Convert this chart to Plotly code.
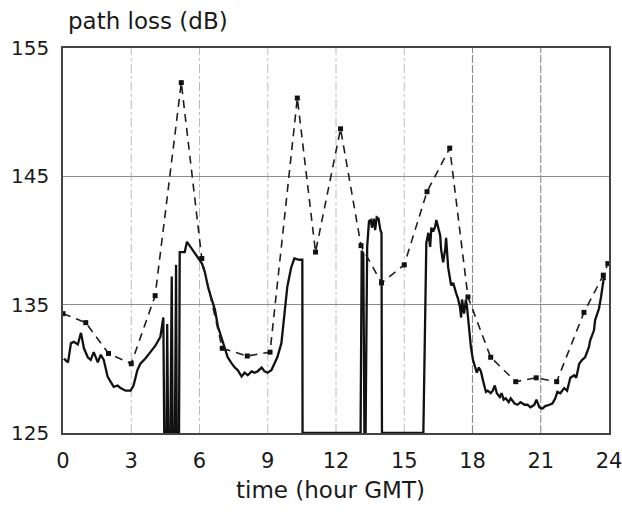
import plotly.graph_objects as go

# Hourly predicted path loss (dashed, with markers)
pred_hour = [0.0, 1.0, 2.0, 3.0, 4.05, 5.2, 6.1, 7.0, 8.1, 9.1, 10.3, 11.1, 12.2,
             13.1, 14.0, 15.0, 16.0, 17.0, 17.8, 18.8, 19.9, 20.8, 21.7, 22.9,
             23.75, 23.95]
pred_db = [134.3, 133.6, 131.2, 130.4, 135.7, 152.3, 138.6, 131.6, 131.0, 131.3,
           151.1, 139.1, 148.7, 139.6, 136.7, 138.1, 143.8, 147.2, 135.6, 130.9,
           129.0, 129.3, 129.0, 134.4, 137.3, 138.2]

# Measured path loss (solid); 125 dB marks signal dropouts
meas_hour = [0.04, 0.22, 0.35, 0.48, 0.65, 0.79, 0.92, 1.09, 1.22, 1.35, 1.53, 1.66,
             1.79, 1.96, 2.09, 2.23, 2.4, 2.53, 2.75, 2.97, 3.1, 3.27, 3.4, 3.62,
             3.84, 4.06, 4.28, 4.41, 4.45, 4.55, 4.58, 4.62, 4.72, 4.78, 4.82, 4.92,
             4.97, 5.0, 5.1, 5.13, 5.35, 5.45, 5.8, 6.11, 6.24, 6.37, 6.54, 6.68,
             6.81, 6.98, 7.11, 7.24, 7.42, 7.55, 7.68, 7.85, 7.98, 8.12, 8.29, 8.42,
             8.55, 8.73, 8.86, 8.99, 9.16, 9.29, 9.42, 9.6, 9.73, 9.86, 10.03, 10.17,
             10.38, 10.52, 10.53, 13.08, 13.13, 13.2, 13.25, 13.3, 13.37, 13.45,
             13.53, 13.58, 13.66, 13.72, 13.79, 13.87, 13.95, 14.0, 14.02, 15.84,
             15.97, 16.06, 16.14, 16.19, 16.27, 16.36, 16.41, 16.49, 16.58, 16.62,
             16.71, 16.8, 16.84, 16.93, 17.02, 17.06, 17.15, 17.23, 17.28, 17.36,
             17.45, 17.5, 17.54, 17.63, 17.71, 17.76, 17.84, 17.93, 18.02, 18.11,
             18.19, 18.28, 18.37, 18.46, 18.59, 18.67, 18.8, 18.89, 18.98, 19.07,
             19.2, 19.28, 19.37, 19.46, 19.59, 19.68, 19.85, 19.98, 20.11, 20.29,
             20.42, 20.55, 20.72, 20.81, 20.94, 21.07, 21.2, 21.38, 21.51, 21.64,
             21.73, 21.86, 22.03, 22.16, 22.3, 22.47, 22.56, 22.69, 22.82, 22.95,
             23.12, 23.17, 23.34, 23.39, 23.56, 23.65, 23.73, 23.78, 23.82]
meas_db = [130.8, 130.5, 132.0, 132.1, 131.9, 132.8, 131.6, 130.9, 130.7, 131.3,
           130.5, 131.1, 130.7, 129.4, 129.0, 128.6, 128.7, 128.5, 128.3, 128.3,
           128.7, 129.9, 130.4, 130.8, 131.3, 131.8, 132.5, 134.0, 125.0, 125.0,
           133.5, 125.0, 125.0, 137.2, 125.0, 125.0, 138.1, 125.0, 125.0, 139.1,
           139.1, 139.9, 139.0, 138.2, 137.5, 136.4, 135.4, 134.6, 133.3, 132.3,
           131.5, 130.9, 130.4, 130.1, 129.9, 129.4, 129.7, 129.5, 129.8, 129.7,
           129.8, 130.1, 129.8, 129.7, 129.9, 130.4, 130.9, 132.0, 134.3, 136.4,
           137.9, 138.6, 138.5, 138.5, 125.0, 125.0, 139.2, 139.0, 125.0, 125.0,
           139.5, 141.5, 141.6, 141.0, 141.7, 140.8, 141.8, 141.7, 140.8, 140.6,
           125.0, 125.0, 139.8, 140.6, 139.5, 141.0, 140.7, 141.1, 141.6, 141.0,
           140.4, 139.3, 138.3, 139.3, 140.2, 137.9, 137.1, 136.5, 136.7, 136.1,
           135.9, 135.5, 134.8, 134.0, 135.4, 134.3, 135.4, 134.8, 133.3, 131.7,
           130.7, 130.1, 129.7, 130.1, 129.8, 129.1, 128.2, 128.3, 128.1, 128.3,
           128.7, 128.1, 127.8, 128.1, 127.6, 127.7, 127.4, 127.7, 127.3, 127.2,
           127.4, 127.2, 127.2, 127.0, 127.2, 127.6, 127.0, 126.9, 127.1, 127.2,
           127.3, 127.7, 128.2, 128.1, 128.5, 128.3, 129.3, 129.5, 129.3, 130.4,
           130.7, 130.9, 131.7, 132.2, 133.0, 133.8, 134.7, 135.6, 136.8, 137.2,
           136.9]

x_ticks = [0, 3, 6, 9, 12, 15, 18, 21, 24]
y_ticks = [125, 135, 145, 155]

FONT = "DejaVu Sans"
INK = "#1a1a1a"

fig = go.Figure()

fig.add_trace(go.Scatter(
    x=meas_hour, y=meas_db, mode="lines",
    line=dict(color="#111111", width=2.3),
    showlegend=False, hoverinfo="skip",
))
fig.add_trace(go.Scatter(
    x=pred_hour, y=pred_db, mode="lines+markers",
    line=dict(color="#1e1e1e", width=1.6, dash="8px,6px"),
    marker=dict(symbol="square", size=5, color="#111111"),
    showlegend=False, hoverinfo="skip",
))

# Vertical grid lines at inner hour ticks: fainter dash-dot before 18 h
for t in x_ticks[1:-1]:
    late = t >= 18
    fig.add_shape(
        type="line", xref="x", yref="paper", x0=t, x1=t, y0=0, y1=1,
        line=dict(color="#8a8a8a" if late else "#bcbcbc",
                  width=1.1 if late else 1.0,
                  dash="8px,2px" if late else "dashdot"),
        layer="below",
    )

fig.update_layout(
    width=622, height=522,
    margin=dict(l=63, r=13, t=48, b=89, autoexpand=False),
    paper_bgcolor="white", plot_bgcolor="white",
    font=dict(family=FONT, size=20, color=INK),
    xaxis=dict(
        range=[0, 24], tickvals=x_ticks, ticktext=[str(v) for v in x_ticks],
        showgrid=False, zeroline=False, automargin=False,
        showline=True, mirror=True, linecolor="#444444", linewidth=1.6,
        ticks="", ticklabelstandoff=8, ticklabeloverflow="allow",
        tickfont=dict(family=FONT, size=21, color=INK),
    ),
    yaxis=dict(
        range=[125, 155], tickvals=y_ticks, ticktext=[str(v) for v in y_ticks],
        showgrid=True, gridcolor="#8c8c8c", gridwidth=1,
        zeroline=False, automargin=False,
        showline=True, mirror=True, linecolor="#444444", linewidth=1.6,
        ticks="", ticklabelstandoff=8,
        tickfont=dict(family=FONT, size=20, color=INK),
    ),
    annotations=[
        dict(text="path loss (dB)", xref="paper", yref="paper",
             x=0.005, y=1.0, yshift=27, xanchor="left", yanchor="middle",
             showarrow=False, font=dict(family=FONT, size=23, color=INK)),
        dict(text="time (hour GMT)", xref="paper", yref="paper",
             x=0.49, y=0, yshift=-57, xanchor="center", yanchor="middle",
             showarrow=False, font=dict(family=FONT, size=23, color=INK)),
    ],
)

fig.write_html("out.html")
